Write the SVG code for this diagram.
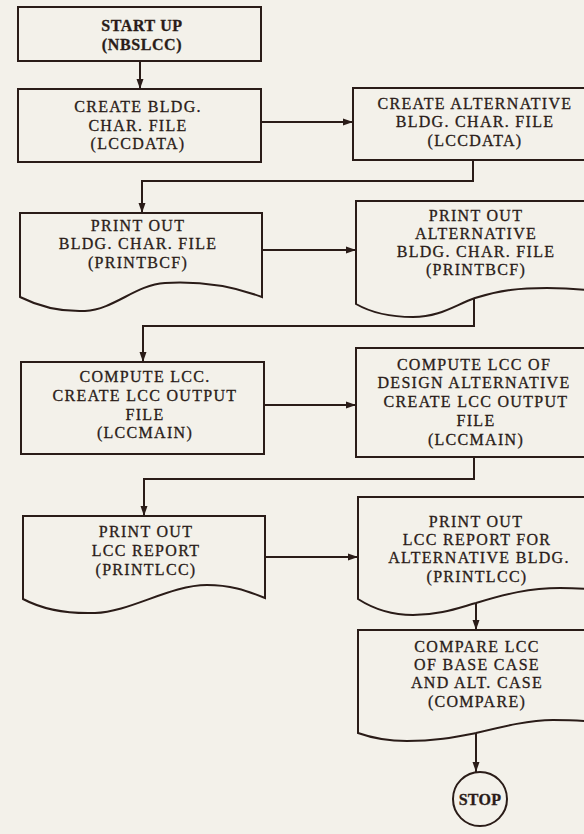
<svg xmlns="http://www.w3.org/2000/svg" width="584" height="834" viewBox="0 0 584 834">
<style>
.bg{fill:#f3f1ea}
.box{fill:#f3f1ea;stroke:#2a1c18;stroke-width:2;stroke-linejoin:miter}
.ln{fill:none;stroke:#2a1c18;stroke-width:2}
text{font-family:"Liberation Serif","Times New Roman",serif;font-size:16px;fill:#2a1c18;stroke:#2a1c18;stroke-width:0.3;text-anchor:middle;letter-spacing:1.3px}
.b{font-weight:bold;letter-spacing:0.6px}
</style>
<defs>
<marker id="ah" markerUnits="userSpaceOnUse" markerWidth="11" markerHeight="8" refX="10" refY="4" orient="auto">
<path d="M0,0.5 L10,4 L0,7.5 z" fill="#2a1c18"/>
</marker>
</defs>
<rect class="bg" x="0" y="0" width="584" height="834"/>

<g id="connectors">
<path class="ln" d="M140,61 V89" marker-end="url(#ah)"/>
<path class="ln" d="M261,122 H353" marker-end="url(#ah)"/>
<path class="ln" d="M473,160 V181 H142 V213" marker-end="url(#ah)"/>
<path class="ln" d="M262,250 H356" marker-end="url(#ah)"/>
<path class="ln" d="M474,298 V326 H143 V362" marker-end="url(#ah)"/>
<path class="ln" d="M264,405 H356" marker-end="url(#ah)"/>
<path class="ln" d="M474,457 V479 H144 V516" marker-end="url(#ah)"/>
<path class="ln" d="M265,557 H358" marker-end="url(#ah)"/>
<path class="ln" d="M476,603 V630" marker-end="url(#ah)"/>
<path class="ln" d="M476,733 V772" marker-end="url(#ah)"/>
</g>

<g id="n1">
<rect class="box" x="18" y="7" width="243" height="54"/>
<text class="b" x="142" y="31">START UP</text>
<text class="b" x="142" y="50">(NBSLCC)</text>
</g>

<g id="n2">
<rect class="box" x="18" y="89" width="243" height="73"/>
<text x="138" y="112">CREATE BLDG.</text>
<text x="138" y="131">CHAR. FILE</text>
<text x="138" y="149">(LCCDATA)</text>
</g>

<g id="n3">
<rect class="box" x="353" y="88" width="250" height="72"/>
<text x="475" y="109">CREATE ALTERNATIVE</text>
<text x="475" y="127">BLDG. CHAR. FILE</text>
<text x="475" y="146">(LCCDATA)</text>
</g>

<g id="n4">
<path class="box" d="M20,213 H262 V297 C235,287 200,281 165,283 C135,285 115,309 85,311 C60,312 40,307 20,297 Z"/>
<text x="138" y="231">PRINT OUT</text>
<text x="138" y="249">BLDG. CHAR. FILE</text>
<text x="138" y="268">(PRINTBCF)</text>
</g>

<g id="n5">
<path class="box" d="M603,201 H356 V304 C370,312 390,317 413,317 C440,317 455,305 475,298 C500,290 520,288 547,288 C570,288 590,290 603,292 Z"/>
<text x="476" y="221">PRINT OUT</text>
<text x="476" y="239">ALTERNATIVE</text>
<text x="476" y="257">BLDG. CHAR. FILE</text>
<text x="476" y="275">(PRINTBCF)</text>
</g>

<g id="n6">
<rect class="box" x="21" y="362" width="243" height="92"/>
<text x="145" y="382">COMPUTE LCC.</text>
<text x="145" y="401">CREATE LCC OUTPUT</text>
<text x="145" y="420">FILE</text>
<text x="145" y="438">(LCCMAIN)</text>
</g>

<g id="n7">
<rect class="box" x="356" y="348" width="250" height="109"/>
<text x="474" y="370">COMPUTE LCC OF</text>
<text x="474" y="388">DESIGN ALTERNATIVE</text>
<text x="476" y="407">CREATE LCC OUTPUT</text>
<text x="476" y="426">FILE</text>
<text x="476" y="445">(LCCMAIN)</text>
</g>

<g id="n8">
<path class="box" d="M23,516 H265 V598 C245,590 230,585 207,585 C170,585 130,612 95,613 C65,614 40,608 23,599 Z"/>
<text x="146" y="537">PRINT OUT</text>
<text x="146" y="556">LCC REPORT</text>
<text x="146" y="575">(PRINTLCC)</text>
</g>

<g id="n9">
<path class="box" d="M603,497 H358 V599 C372,608 392,615 413,615 C440,615 458,608 476,603 C505,594 530,588 560,588 C578,588 592,589 603,590 Z"/>
<text x="476" y="527">PRINT OUT</text>
<text x="477" y="545">LCC REPORT FOR</text>
<text x="479" y="563">ALTERNATIVE BLDG.</text>
<text x="477" y="582">(PRINTLCC)</text>
</g>

<g id="n10">
<path class="box" d="M603,630 H358 V733 C372,738 390,741 407,741 C435,741 455,737 476,733 C505,726 530,720 553,720 C572,720 590,721 603,723 Z"/>
<text x="477" y="652">COMPARE LCC</text>
<text x="477" y="670">OF BASE CASE</text>
<text x="477" y="688">AND ALT. CASE</text>
<text x="477" y="707">(COMPARE)</text>
</g>

<g id="n11">
<circle class="box" cx="480" cy="799" r="27"/>
<text class="b" x="480" y="805" style="letter-spacing:0.3px">STOP</text>
</g>
</svg>
